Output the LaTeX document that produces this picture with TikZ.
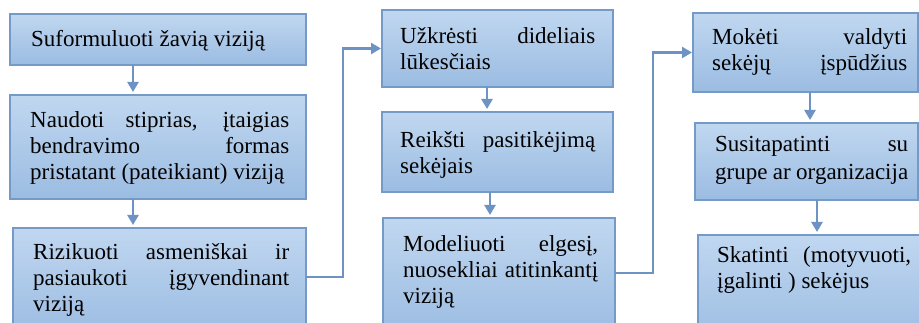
\documentclass[tikz,border=0pt]{standalone}
\usepackage{fontspec}
\setmainfont{Liberation Serif}
\usetikzlibrary{arrows.meta,calc}
\definecolor{bxtop}{RGB}{192,215,240}
\definecolor{bxbot}{RGB}{155,188,226}
\definecolor{bxline}{RGB}{118,154,199}
\definecolor{arrc}{RGB}{108,147,195}
\newcommand\jline[1]{\makebox[\linewidth][s]{#1}\\}
\newcommand\bx[5]{\node[box, anchor=north west, minimum width={(#4-#2)*1pt}, minimum height={(#5-#3)*1pt}] (#1) at (#2,#3) {};}
\tikzset{
 box/.style={rectangle, draw=bxline, line width=2.5pt, top color=bxtop, bottom color=bxbot, inner sep=0pt, outer sep=0pt},
 txt/.style={inner sep=0pt, anchor=base west, font=\fontsize{23pt}{26pt}\selectfont},
 conn/.style={draw=arrc, line width=2.5pt, -{Triangle[width=11pt,length=10pt]}, shorten >=3pt},
 connr/.style={conn, shorten >=1pt},
}
\begin{document}
\begin{tikzpicture}[x=1pt,y=-1pt]
\useasboundingbox (0,0) rectangle (919,323);
\clip (0,0) rectangle (919,323);
% boxes
\bx{b1}{10}{14}{306}{65}
\bx{b2}{10}{95}{306}{199}
\bx{b3}{13}{228}{306}{335}
\bx{b4}{382}{10}{613}{87}
\bx{b5}{382}{112}{613}{192}
\bx{b6}{383}{218}{615}{335}
\bx{b7}{693}{13}{918}{92}
\bx{b8}{695}{123}{918}{200}
\bx{b9}{698}{235}{935}{345}
% texts
\node[txt] (t1) at (31,46.5) {Suformuluoti žavią viziją};
\node[txt] (t2) at (30,128) {\parbox[t]{259pt}{\jline{Naudoti stiprias, įtaigias}\jline{bendravimo formas}pristatant (pateikiant) viziją}};
\node[txt] (t3) at (33,260) {\parbox[t]{256pt}{\jline{Rizikuoti asmeniškai ir}\jline{pasiaukoti įgyvendinant}viziją}};
\node[txt] (t4) at (400,44) {\parbox[t]{195pt}{\jline{Užkrėsti dideliais}lūkesčiais}};
\node[txt] (t5) at (400,148) {\parbox[t]{195pt}{\jline{Reikšti pasitikėjimą}sekėjais}};
\node[txt] (t6) at (403,252) {\parbox[t]{195pt}{\jline{Modeliuoti elgesį,}\jline{nuosekliai atitinkantį}viziją}};
\node[txt] (t7) at (712,45) {\parbox[t]{195pt}{\jline{Mokėti valdyti}\makebox[\linewidth][s]{sekėjų įspūdžius}}};
\node[txt] (t8) at (715,152) {\parbox[t]{193pt}{\baselineskip=28pt\jline{Susitapatinti su}grupe ar organizacija}};
\node[txt] (t9) at (717,263) {\parbox[t]{194pt}{\jline{Skatinti (motyvuoti,}įgalinti ) sekėjus}};
% connectors
\draw[conn] ([xshift=-25pt]b1.south) coordinate (s1) -- (s1 |- b2.north);
\draw[conn] ([xshift=-25pt]b2.south) coordinate (s2) -- (s2 |- b3.north);
\draw[conn] ([xshift=-10.5pt]b4.south) coordinate (s4) -- (s4 |- b5.north);
\draw[conn] ([xshift=-7.5pt]b5.south) coordinate (s5) -- (s5 |- b6.north);
\draw[conn] ([xshift=4.5pt]b7.south) coordinate (s7) -- (s7 |- b8.north);
\draw[conn] ([xshift=10.5pt]b8.south) coordinate (s8) -- (s8 |- b9.north);
\draw[connr] ($(b3.north east)+(0,49)$) -- ++(37,0) |- (b4.west);
\draw[connr] ($(b6.north east)+(0,55)$) -- ++(38,0) |- (b7.west);
\end{tikzpicture}
\end{document}
